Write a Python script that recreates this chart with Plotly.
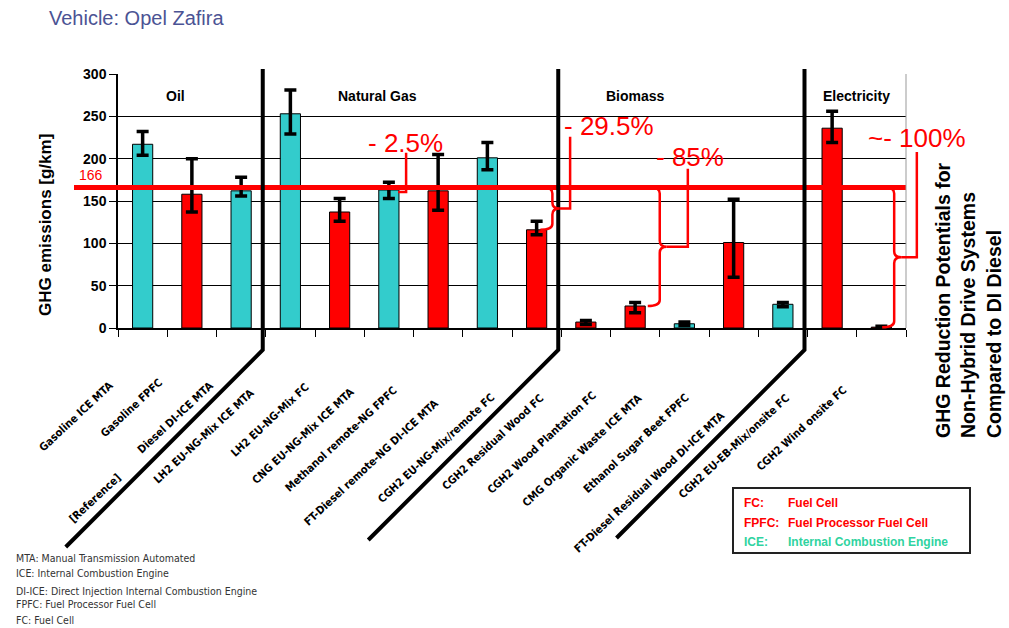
import plotly.graph_objects as go

# ---------------- data ----------------
categories = [
    "Gasoline ICE MTA", "Gasoline FPFC", "Diesel DI-ICE MTA",
    "LH2 EU-NG-Mix ICE MTA", "LH2 EU-NG-Mix FC", "CNG EU-NG-Mix ICE MTA",
    "Methanol remote-NG FPFC", "FT-Diesel remote-NG DI-ICE MTA",
    "CGH2 EU-NG-Mix/remote FC", "CGH2 Residual Wood FC",
    "CGH2 Wood Plantation FC", "CMG Organic Waste ICE MTA",
    "Ethanol Sugar Beet FPFC", "FT-Diesel Residual Wood DI-ICE MTA",
    "CGH2 EU-EB-Mix/onsite FC", "CGH2 Wind onsite FC",
]
drive_type = ["ICE", "FPFC", "ICE", "ICE", "FC", "ICE", "FPFC", "ICE",
              "FC", "FC", "FC", "ICE", "FPFC", "ICE", "FC", "FC"]
ghg = [217, 158, 162, 253, 137, 163, 162, 201, 116, 7, 26, 5, 101, 28, 236, 1]
ghg_high = [232, 200, 178, 281, 153, 172, 205, 219, 126, 9, 30, 7, 152, 30, 256, 2]
ghg_low = [204, 137, 156, 229, 126, 153, 139, 187, 110, 4, 18, 3, 60, 25, 219, 0]
reference_ghg = 166
reference_index = 2
sections = ["Oil", "Natural Gas", "Biomass", "Electricity"]
section_counts = [3, 6, 5, 2]
reduction_labels = ["- 2.5%", "- 29.5%", "- 85%", "~- 100%"]
reduction_bar = [5, 8, 10, 15]
y_ticks = [0, 50, 100, 150, 200, 250, 300]

legend_keys = ["FC:", "FPFC:", "ICE:"]
legend_texts = ["Fuel Cell", "Fuel Processor Fuel Cell", "Internal Combustion Engine"]
footnotes = [
    "MTA: Manual Transmission Automated",
    "ICE: Internal Combustion Engine",
    "DI-ICE: Direct Injection Internal Combustion Engine",
    "FPFC: Fuel Processor Fuel Cell",
    "FC: Fuel Cell",
]

# ---------------- style ----------------
TEAL = "#33CCCC"
RED = "#FF0000"
LEG_GREEN = "#2FD3A0"
colors = {"ICE": TEAL, "FC": RED, "FPFC": RED}
FONT = "Liberation Sans, Arial, sans-serif"
NARROW = "Liberation Sans Narrow, Arial Narrow, DejaVu Sans Condensed, sans-serif"

W, H = 1009, 628
L, R, T, B = 118, 906, 74, 328
N = len(categories)
YMAX = 300


def xp(px):
    return (px - L) / (R - L)


def yp(py):
    return (B - py) / (B - T)


def cx(i):
    return L + (i + 0.5) * (R - L) / N


def vy(v):
    return B - v * (B - T) / YMAX


def pt(px, py):
    return f"{xp(px):.5f},{yp(py):.5f}"


# label placement (pixel offsets of the end of each rotated label)
label_dx = [-24, -23, -22, -31, -26, -30, -36, -43, -37, -37, -33, -37, -39, -53, -37, -29]
label_y = [376, 373, 376, 384, 378, 383, 381, 394, 388, 389, 386, 389, 389, 406, 389, 381]

fig = go.Figure()
fig.add_trace(go.Bar(
    x=categories, y=ghg,
    marker=dict(color=[colors[d] for d in drive_type], line=dict(color="black", width=1)),
    error_y=dict(type="data", symmetric=False,
                 array=[h - v for h, v in zip(ghg_high, ghg)],
                 arrayminus=[v - l for v, l in zip(ghg, ghg_low)],
                 color="black", thickness=3.5, width=6),
    showlegend=False,
))

shapes = []
annotations = []

# reference line
shapes.append(dict(type="line", xref="paper", yref="paper",
                   x0=xp(74), x1=xp(R), y0=yp(vy(reference_ghg)), y1=yp(vy(reference_ghg)),
                   line=dict(color=RED, width=5), layer="above"))
annotations.append(dict(xref="paper", yref="paper", x=xp(77), y=yp(vy(reference_ghg) - 2),
                        xanchor="left", yanchor="bottom", showarrow=False,
                        text=str(reference_ghg), font=dict(family=FONT, size=14, color=RED)))

# right border
shapes.append(dict(type="line", xref="paper", yref="paper", x0=1, x1=1, y0=0, y1=1,
                   line=dict(color="#999999", width=1)))

# section dividers
diag_len = [197, 190, 188]
bound = 0
for k, cnt in enumerate(section_counts[:-1]):
    bound += cnt
    bx = L + bound * (R - L) / N - 3
    d = diag_len[k]
    shapes.append(dict(type="path", xref="paper", yref="paper",
                       path=f"M{pt(bx, 69)} L{pt(bx, 350)} L{pt(bx - d, 350 + d)}",
                       line=dict(color="black", width=4), layer="above"))

# section titles
sec_pos = [0.66, 4.76, 10.0, 14.5]
for name, p in zip(sections, sec_pos):
    annotations.append(dict(xref="paper", yref="paper", x=xp(cx(p)), y=yp(96),
                            xanchor="center", yanchor="middle", showarrow=False,
                            text=name, font=dict(family=FONT, size=14, color="black", weight="bold")))

# category labels
for i, c in enumerate(categories):
    annotations.append(dict(xref="paper", yref="paper", x=xp(cx(i) + label_dx[i]), y=yp(label_y[i]),
                            xanchor="right", yanchor="top", showarrow=False, textangle=-43,
                            text=c, font=dict(family=NARROW, size=11, color="black", weight="bold")))
annotations.append(dict(xref="paper", yref="paper", x=xp(cx(reference_index) - 115), y=yp(468),
                        xanchor="right", yanchor="top", showarrow=False, textangle=-43,
                        text="[Reference]", font=dict(family=NARROW, size=11, color="black", weight="bold")))

# reduction brackets
brace_x = [None, 8.32, 10.5, 15.26]
conn_x = [5.35, 8.68, 11.07, 15.72]
conn_top = [207, 226, 188, 208]
text_pos = [(5.33, 219), (9.47, 239), (11.11, 202), (15.72, 224)]
bw = dict(color=RED, width=2.5)
for k, lab in enumerate(reduction_labels):
    idx = reduction_bar[k]
    ytop = vy(reference_ghg)
    ybot = vy(ghg[idx])
    xc = cx(conn_x[k])
    if brace_x[k] is None:
        path = f"M{pt(xc, vy(conn_top[k]))} L{pt(xc, ybot + 2)} L{pt(xc - 8, ybot + 2)}"
        shapes.append(dict(type="path", xref="paper", yref="paper", path=path, line=bw))
    else:
        xb = cx(brace_x[k])
        ym = (ytop + ybot) / 2
        r = 6
        path = (f"M{pt(xb - 8, ytop)} Q{pt(xb, ytop)} {pt(xb, ytop + r)} "
                f"L{pt(xb, ym - r)} Q{pt(xb, ym)} {pt(xb + 7, ym)} "
                f"Q{pt(xb, ym)} {pt(xb, ym + r)} L{pt(xb, ybot - r)} "
                f"Q{pt(xb, ybot)} {pt(xb - 12, ybot)}")
        shapes.append(dict(type="path", xref="paper", yref="paper", path=path, line=bw))
        path2 = f"M{pt(xb + 7, ym)} L{pt(xc, ym)} L{pt(xc, vy(conn_top[k]))}"
        shapes.append(dict(type="path", xref="paper", yref="paper", path=path2, line=bw))
    tx, ty = text_pos[k]
    annotations.append(dict(xref="paper", yref="paper", x=xp(cx(tx)), y=yp(vy(ty)),
                            xanchor="center", yanchor="middle", showarrow=False,
                            text=lab, font=dict(family=FONT, size=26, color=RED)))

# axis title
annotations.append(dict(xref="paper", yref="paper", x=xp(45), y=yp(225),
                        xanchor="center", yanchor="middle", showarrow=False, textangle=-90,
                        text="GHG emissions [g/km]",
                        font=dict(family=FONT, size=17, color="black", weight="bold")))

# right side rotated text
annotations.append(dict(xref="paper", yref="paper", x=xp(968), y=yp(440),
                        xanchor="center", yanchor="bottom", showarrow=False, textangle=-90,
                        align="left",
                        text="GHG Reduction Potentials for<br>Non-Hybrid Drive Systems<br>Compared to DI Diesel",
                        font=dict(family=FONT, size=19.5, color="black", weight="bold")))

# title
annotations.append(dict(xref="paper", yref="paper", x=xp(47), y=yp(18),
                        xanchor="left", yanchor="middle", showarrow=False,
                        text="Vehicle: Opel Zafira",
                        font=dict(family=FONT, size=20, color="#4B5394")))

# legend box
shapes.append(dict(type="rect", xref="paper", yref="paper",
                   x0=xp(733), x1=xp(970), y0=yp(553), y1=yp(488),
                   line=dict(color="#222222", width=2), fillcolor="white"))
leg_rows = [503, 523, 542]
leg_cols = [RED, RED, LEG_GREEN]
for key, txt, yy, col in zip(legend_keys, legend_texts, leg_rows, leg_cols):
    annotations.append(dict(xref="paper", yref="paper", x=xp(742), y=yp(yy),
                            xanchor="left", yanchor="middle", showarrow=False, text=key,
                            font=dict(family=FONT, size=12, color=col, weight="bold")))
    annotations.append(dict(xref="paper", yref="paper", x=xp(786), y=yp(yy),
                            xanchor="left", yanchor="middle", showarrow=False, text=txt,
                            font=dict(family=FONT, size=12, color=col, weight="bold")))

# footnotes
foot_rows = [558, 573, 591, 604, 620]
for txt, yy in zip(footnotes, foot_rows):
    annotations.append(dict(xref="paper", yref="paper", x=xp(14), y=yp(yy),
                            xanchor="left", yanchor="middle", showarrow=False, text=txt,
                            font=dict(family=NARROW, size=10.5, color="#333333")))

fig.update_layout(
    width=W, height=H,
    margin=dict(l=L, r=W - R, t=T, b=H - B, pad=0),
    paper_bgcolor="white", plot_bgcolor="white",
    bargap=0.59,
    shapes=shapes, annotations=annotations,
    xaxis=dict(type="category", range=[-0.5, N - 0.5], showticklabels=False,
               showline=True, linecolor="black", linewidth=1.5,
               ticks="outside", tickson="boundaries", ticklen=7, tickcolor="black",
               showgrid=False, fixedrange=True),
    yaxis=dict(range=[0, YMAX], tickvals=y_ticks, showline=True, linecolor="black",
               linewidth=1.5, ticks="outside", ticklen=7, tickcolor="black",
               showgrid=True, gridcolor="black", gridwidth=1, zeroline=False,
               tickfont=dict(family=FONT, size=14, color="black", weight="bold")),
    font=dict(family=FONT),
)

fig.write_html("out.html")
